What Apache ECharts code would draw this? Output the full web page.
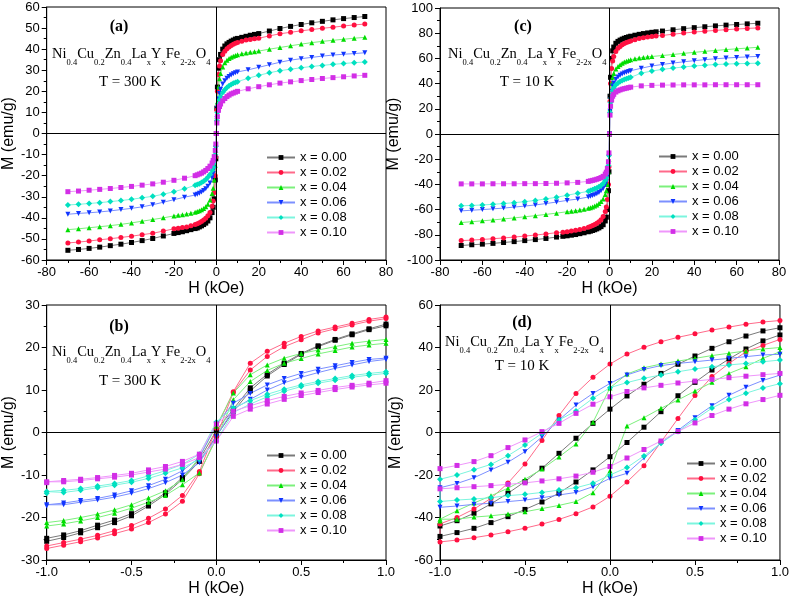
<!DOCTYPE html>
<html>
<head>
<meta charset="utf-8">
<script src="https://cdn.jsdelivr.net/npm/echarts@6/dist/echarts.min.js"></script>
<style>html,body{margin:0;padding:0;background:#fff}#chart{width:792px;height:599px}</style>
</head>
<body>
<div id="chart"></div>
<script>
// ---------- DATA ----------
const SERIES_NAMES = ['x = 0.00', 'x = 0.02', 'x = 0.04', 'x = 0.06', 'x = 0.08', 'x = 0.10'];

// wide-field sweeps (panels a, c): field grids, kOe
const H_D20 = [-70,-65,-60,-55,-50,-45,-40,-35,-30,-25,-20,-18,-16,-14,-12,-10,-9,-8,-7,-6,-5,-4,-3,-2,-1.5,-1,-0.5,-0.25,0,0.25,0.5,1,1.5,2,3,4,5,6,7,8,9,10,12,14,16,18,20,25,30,35,40,45,50,55,60,65,70];
const H_D10 = [-70,-65,-60,-55,-50,-45,-40,-35,-30,-25,-20,-15,-10,-9,-8,-7,-6,-5,-4,-3,-2,-1.5,-1,-0.5,-0.25,0,0.25,0.5,1,1.5,2,3,4,5,6,7,8,9,10,15,20,25,30,35,40,45,50,55,60,65,70];
const H_D25 = [-70,-65,-60,-55,-50,-45,-40,-35,-30,-25,-22,-20,-18,-16,-14,-12,-10,-9,-8,-7,-6,-5,-4,-3,-2,-1.5,-1,-0.5,-0.25,0,0.25,0.5,1,1.5,2,3,4,5,6,7,8,9,10,12,14,16,18,20,22,25,30,35,40,45,50,55,60,65,70];

// panel (a) T = 300 K, M (emu/g)
const A_M000 = [-55.4,-55.0,-54.5,-53.9,-53.2,-52.5,-51.7,-50.8,-49.8,-48.6,-47.4,-47.0,-46.6,-46.1,-45.6,-45.1,-44.8,-44.3,-43.8,-43.2,-42.5,-41.5,-40.0,-37.5,-35.0,-31.0,-22.0,-12.0,0,12,22,31,35,37.5,40,41.5,42.5,43.2,43.8,44.3,44.8,45.1,45.6,46.1,46.6,47.0,47.4,48.6,49.8,50.8,51.7,52.5,53.2,53.9,54.5,55.0,55.5];
const A_M002 = [-51.9,-51.5,-51.0,-50.4,-49.9,-49.3,-48.7,-48.0,-47.3,-46.3,-45.2,-44.9,-44.6,-44.3,-43.8,-43.2,-42.8,-42.3,-41.7,-41.0,-40.2,-39.0,-37.5,-34.5,-32.0,-28.0,-20.0,-11.0,0,11,20,28,32,34.5,37.5,39,40.2,41,41.7,42.3,42.8,43.2,43.8,44.3,44.6,44.9,45.2,46.3,47.3,48.0,48.7,49.3,49.9,50.4,51.0,51.5,51.9];
const A_M004 = [-45.6,-45.2,-44.7,-44.2,-43.7,-43.1,-42.4,-41.6,-40.8,-40.0,-39.1,-38.8,-38.5,-38.2,-37.8,-37.3,-37.0,-36.6,-36.2,-35.6,-34.8,-33.5,-31.5,-28.5,-26.0,-22.0,-15.0,-8.0,0,8,15,22,26,28.5,31.5,33.5,34.8,35.6,36.2,36.6,37.0,37.3,37.8,38.2,38.5,38.8,39.1,40.0,40.8,41.6,42.4,43.1,43.7,44.2,44.7,45.2,45.6];
const A_M006 = [-38.3,-37.9,-37.6,-37.2,-36.7,-36.1,-35.5,-34.8,-33.8,-32.6,-31.4,-30.2,-29.2,-28.8,-28.3,-27.7,-27.0,-26.2,-25.0,-23.5,-21.0,-19.0,-16.5,-12.0,-7.0,0,7,12,16.5,19,21,23.5,25,26.2,27,27.7,28.3,28.8,29.2,30.2,31.4,32.6,33.8,34.8,35.5,36.1,36.7,37.2,37.6,37.9,38.3];
const A_M008 = [-33.9,-33.6,-33.2,-32.8,-32.3,-31.8,-31.2,-30.5,-29.8,-28.8,-27.6,-26.2,-24.6,-24.2,-23.8,-23.3,-22.6,-21.8,-20.8,-19.5,-17.5,-16.0,-14.0,-10.0,-6.0,0,6,10,14,16,17.5,19.5,20.8,21.8,22.6,23.3,23.8,24.2,24.6,26.2,27.6,28.8,29.8,30.5,31.2,31.8,32.3,32.8,33.2,33.6,33.9];
const A_M010 = [-27.6,-27.3,-26.9,-26.5,-26.1,-25.6,-25.1,-24.5,-23.9,-23.1,-22.2,-21.2,-20.0,-19.6,-19.2,-18.8,-18.2,-17.5,-16.6,-15.5,-14.0,-12.8,-11.0,-8.0,-5.0,0,5,8,11,12.8,14,15.5,16.6,17.5,18.2,18.8,19.2,19.6,20,21.2,22.2,23.1,23.9,24.5,25.1,25.6,26.1,26.5,26.9,27.3,27.6];

// panel (c) T = 10 K
const C_M000 = [-88.5,-87.9,-87.4,-86.8,-86.1,-85.4,-84.6,-83.8,-82.9,-81.8,-81.2,-80.8,-80.3,-79.8,-79.1,-78.4,-77.6,-77.1,-76.6,-76.0,-75.3,-74.5,-73.5,-72.0,-69.0,-66.0,-60.0,-45.0,-30.0,0,30,45,60,66,69,72,73.5,74.5,75.3,76,76.6,77.1,77.6,78.4,79.1,79.7,80.2,80.7,81.1,81.7,82.7,83.6,84.4,85.1,85.8,86.4,86.9,87.4,87.9];
const C_M002 = [-84.6,-84.2,-83.7,-83.1,-82.5,-81.8,-81.0,-80.2,-79.3,-78.3,-77.9,-77.5,-77.0,-76.4,-75.8,-75.0,-74.0,-73.4,-72.7,-71.9,-70.9,-69.6,-68.0,-65.5,-61.5,-58.0,-52.0,-40.0,-26.0,0,26,40,52,58,61.5,65.5,68,69.5,70.8,71.8,72.6,73.3,73.9,74.9,75.7,76.3,76.9,77.4,77.8,78.2,79.2,80.1,80.9,81.6,82.2,82.8,83.3,83.8,84.2];
const C_M004 = [-70.3,-69.6,-68.9,-68.2,-67.4,-66.6,-65.7,-64.8,-63.8,-62.8,-61.7,-61.3,-60.9,-60.4,-59.8,-59.0,-58.5,-57.9,-57.2,-56.3,-55.1,-53.6,-51.6,-48.1,-45.0,-40.0,-30.0,-20.0,0,20,30,40,45,48,51.5,53.5,55,56.2,57.1,57.8,58.4,58.9,59.7,60.3,60.8,61.2,61.5,62.3,63.1,64.0,64.8,65.6,66.3,67.0,67.6,68.2,68.8];
const C_M006 = [-61.0,-60.5,-60.0,-59.4,-58.8,-58.0,-57.2,-56.3,-55.2,-54.0,-52.7,-51.6,-50.0,-49.5,-48.9,-48.2,-47.4,-46.4,-45.1,-43.3,-40.3,-37.8,-33.8,-27.0,-18.0,0,18,27,34,38,40.5,43.5,45.3,46.6,47.6,48.4,49.1,49.7,50.2,52.2,54.0,55.2,56.3,57.3,58.2,59.0,59.7,60.3,60.8,61.2,61.6];
const C_M008 = [-57.0,-56.7,-56.3,-55.8,-55.2,-54.5,-53.7,-52.7,-51.5,-50.2,-48.6,-47.0,-45.5,-44.8,-44.2,-43.5,-42.8,-41.9,-40.8,-39.3,-36.8,-34.7,-31.0,-25.0,-17.0,0,17,25,31,34.5,36.5,39,40.5,41.6,42.5,43.2,43.8,44.4,45,48.3,50.0,51.3,52.3,53.2,54.0,54.6,55.1,55.5,55.8,56.0,56.2];
const C_M010 = [-39.6,-39.6,-39.6,-39.5,-39.5,-39.5,-39.4,-39.4,-39.3,-39.1,-38.8,-38.4,-37.6,-37.2,-36.8,-36.4,-35.9,-35.3,-34.6,-33.6,-31.8,-30.3,-27.3,-22.0,-15.0,0,15,22,27,30,31.5,33.3,34.3,35,35.6,36,36.4,36.8,37.2,38.2,38.6,38.8,38.9,39.0,39.0,39.0,39.1,39.1,39.1,39.1,39.1];

// low-field loops (panels b, d): field grid from +1 to -1 kOe
const H_LOOP = [1.0,0.9,0.8,0.7,0.6,0.5,0.4,0.3,0.2,0.1,0.0,-0.1,-0.2,-0.3,-0.4,-0.5,-0.6,-0.7,-0.8,-0.9,-1.0];
// panel (b) T = 300 K: descending branch / ascending branch
const B_DOWN_000 = [25.5,24.4,23.2,21.9,20.4,18.6,16.3,13.7,10.5,5.5,0.5,-6.4,-10.6,-14.2,-16.9,-19.1,-20.6,-21.8,-23.1,-24.1,-24.9];
const B_UP_000   = [25.1,24.2,23.0,21.7,20.2,18.4,16.0,13.3,9.8,4.9,-0.8,-6.8,-11.0,-14.6,-17.3,-19.6,-21.2,-22.4,-23.6,-24.7,-25.6];
const B_DOWN_002 = [27.2,26.6,25.7,24.8,23.9,22.6,21.0,19.1,16.3,9.6,1.0,-9.2,-14.8,-18.0,-20.2,-21.9,-23.1,-24.2,-25.1,-25.9,-26.7];
const B_UP_002   = [26.8,26.2,25.3,24.4,23.4,21.8,20.2,17.9,14.7,9.4,-1.0,-9.7,-16.2,-19.2,-21.2,-22.7,-23.8,-24.8,-25.7,-26.5,-27.3];
const B_DOWN_004 = [21.9,21.5,21.0,20.2,19.4,18.6,17.5,15.9,13.6,9.3,1.5,-5.8,-11.1,-13.7,-15.4,-17.0,-18.2,-19.2,-20.0,-20.7,-21.2];
const B_UP_004   = [21.0,20.6,20.1,19.3,18.5,17.4,16.3,14.6,12.0,7.7,-1.5,-9.5,-12.3,-14.8,-16.4,-17.8,-19.0,-20.0,-20.8,-21.5,-22.0];
const B_DOWN_006 = [17.5,17.2,16.5,15.7,14.9,13.9,12.7,11.2,9.2,6.9,2.0,-5.9,-9.0,-11.0,-12.5,-13.7,-14.7,-15.5,-16.0,-16.6,-17.0];
const B_UP_006   = [17.2,16.7,15.9,15.1,14.1,13.0,11.7,10.0,7.8,5.5,-1.0,-7.1,-10.0,-11.8,-13.2,-14.3,-15.2,-15.9,-16.4,-17.0,-17.3];
const B_DOWN_008 = [14.3,13.9,13.4,12.7,12.0,11.2,10.2,9.0,7.5,5.8,2.5,-5.1,-7.5,-9.0,-10.2,-11.3,-12.0,-12.6,-13.2,-13.6,-13.9];
const B_UP_008   = [13.9,13.5,13.0,12.3,11.6,10.8,9.7,8.4,6.7,4.7,-2.0,-6.3,-8.3,-9.6,-10.8,-11.7,-12.4,-13.0,-13.6,-14.1,-14.3];
const B_DOWN_010 = [12.2,11.6,11.1,10.6,9.9,9.3,8.5,7.5,6.3,5.0,2.0,-5.1,-6.8,-8.0,-8.8,-9.6,-10.1,-10.6,-11.0,-11.3,-11.6];
const B_UP_010   = [11.6,11.2,10.7,10.1,9.4,8.7,7.8,6.7,5.5,3.8,-2.0,-5.9,-7.5,-8.6,-9.3,-10.0,-10.5,-10.9,-11.3,-11.6,-11.8];
// panel (d) T = 10 K
const D_DOWN_000 = [49.3,47.8,45.4,42.7,39.6,36.0,32.1,27.8,22.7,17.2,11.0,4.3,-2.7,-9.8,-16.8,-23.1,-28.6,-33.6,-38.0,-41.5,-44.0];
const D_UP_000   = [45.9,43.1,39.3,34.6,29.4,23.6,17.3,9.8,2.5,-4.7,-11.4,-17.6,-23.3,-28.5,-32.7,-36.2,-39.6,-42.4,-45.1,-47.1,-48.9];
const D_DOWN_002 = [52.7,52.0,51.0,49.6,48.2,46.5,44.8,42.7,40.1,36.9,32.2,26.0,18.4,8.0,-3.8,-14.8,-23.8,-31.0,-36.0,-40.0,-43.0];
const D_UP_002   = [43.8,41.0,38.0,32.5,26.3,17.4,6.6,-4.5,-15.6,-23.3,-30.0,-35.0,-38.2,-40.9,-43.1,-45.0,-46.7,-48.2,-49.5,-50.6,-51.5];
const D_DOWN_004 = [40.0,39.3,38.4,37.3,36.2,34.9,33.6,32.2,30.5,27.5,21.0,4.8,-5.4,-11.5,-17.2,-22.0,-26.2,-29.8,-33.2,-36.8,-40.8];
const D_UP_004   = [38.0,34.9,31.0,27.8,23.6,19.5,15.3,11.4,7.0,3.1,-18.0,-28.3,-32.5,-34.3,-35.8,-37.3,-38.3,-39.2,-39.8,-40.8,-41.6];
const D_DOWN_006 = [36.8,36.5,35.7,34.9,34.1,33.3,32.5,31.5,29.7,27.1,23.1,18.4,12.9,5.9,-2.0,-9.0,-14.0,-17.6,-21.3,-24.0,-26.0];
const D_UP_006   = [27.0,24.5,21.3,17.5,12.6,7.0,1.0,-5.0,-12.0,-19.2,-21.6,-25.5,-28.2,-29.4,-30.7,-31.8,-32.5,-33.3,-33.8,-34.6,-35.2];
const D_DOWN_008 = [34.1,33.3,32.5,31.8,31.0,29.9,28.6,27.1,25.5,23.5,21.1,16.1,10.1,5.9,-0.4,-5.9,-10.9,-15.0,-17.5,-20.0,-22.0];
const D_UP_008   = [23.0,21.0,18.5,15.5,11.5,6.0,0.5,-5.0,-11.0,-16.5,-20.0,-23.9,-26.0,-27.1,-28.2,-29.1,-29.7,-30.7,-31.3,-31.8,-32.5];
const D_DOWN_010 = [27.8,27.2,26.5,25.8,25.0,24.2,23.3,22.2,21.0,19.3,16.8,13.3,9.0,4.3,0.4,-3.5,-7.1,-10.9,-13.7,-15.5,-17.0];
const D_UP_010   = [17.5,15.5,13.5,11.0,8.0,4.5,0.5,-4.0,-8.0,-12.0,-16.0,-18.7,-20.5,-21.8,-22.8,-23.7,-24.4,-25.0,-25.5,-26.0,-26.5];

// tick settings
const X_WIDE = {min: -80, max: 80, interval: 20};
const X_LOW = {min: -1, max: 1, interval: 0.5};
const Y_A = {min: -60, max: 60, interval: 10};
const Y_B = {min: -30, max: 30, interval: 10};
const Y_C = {min: -100, max: 100, interval: 20};
const Y_D = {min: -60, max: 60, interval: 20};

// ---------- STYLE ----------
const SANS = 'Liberation Sans, Arial, sans-serif';
const SERIF = 'Liberation Serif, Times New Roman, serif';
const STYLES = [
  {sym: 'rect', rot: 0, mark: '#000000', line: '#7a7a7a'},
  {sym: 'circle', rot: 0, mark: '#ff1040', line: '#ff6a8a'},
  {sym: 'triangle', rot: 0, mark: '#00dd00', line: '#7cf07c'},
  {sym: 'triangle', rot: 180, mark: '#1035ff', line: '#7c90ff'},
  {sym: 'diamond', rot: 0, mark: '#00e0c0', line: '#7cf5de'},
  {sym: 'rect', rot: 0, mark: '#d22ee6', line: '#ef96fb'}
];

function zip(h, m) { return h.map((v, i) => [v, m[i]]); }
function loop(h, down, up) {
  const d = zip(h, down);
  const u = zip(h, up).reverse();
  return d.concat(u);
}

const panels = [
  {grid: {left: 46, top: 7, width: 340, height: 253}, x: X_WIDE, y: Y_A, dec: 0, yGap: 26,
   data: [zip(H_D20, A_M000), zip(H_D20, A_M002), zip(H_D20, A_M004), zip(H_D10, A_M006), zip(H_D10, A_M008), zip(H_D10, A_M010)]},
  {grid: {left: 440, top: 8, width: 339, height: 252}, x: X_WIDE, y: Y_C, dec: 0, yGap: 38,
   data: [zip(H_D25, C_M000), zip(H_D25, C_M002), zip(H_D20, C_M004), zip(H_D10, C_M006), zip(H_D10, C_M008), zip(H_D10, C_M010)]},
  {grid: {left: 46, top: 305, width: 340, height: 255}, x: X_LOW, y: Y_B, dec: 1, yGap: 26,
   data: [loop(H_LOOP, B_DOWN_000, B_UP_000), loop(H_LOOP, B_DOWN_002, B_UP_002), loop(H_LOOP, B_DOWN_004, B_UP_004),
          loop(H_LOOP, B_DOWN_006, B_UP_006), loop(H_LOOP, B_DOWN_008, B_UP_008), loop(H_LOOP, B_DOWN_010, B_UP_010)]},
  {grid: {left: 440, top: 305, width: 342, height: 255}, x: X_LOW, y: Y_D, dec: 1, yGap: 36,
   data: [loop(H_LOOP, D_DOWN_000, D_UP_000), loop(H_LOOP, D_DOWN_002, D_UP_002), loop(H_LOOP, D_DOWN_004, D_UP_004),
          loop(H_LOOP, D_DOWN_006, D_UP_006), loop(H_LOOP, D_DOWN_008, D_UP_008), loop(H_LOOP, D_DOWN_010, D_UP_010)]}
];

const grids = [], xAxes = [], yAxes = [], series = [];
panels.forEach((p, gi) => {
  grids.push(Object.assign({show: true, borderColor: '#000', borderWidth: 1, backgroundColor: 'transparent'}, p.grid));
  xAxes.push({
    type: 'value', gridIndex: gi, min: p.x.min, max: p.x.max, interval: p.x.interval,
    axisLine: {onZero: false, lineStyle: {color: '#000', width: 1}},
    axisTick: {length: 5, lineStyle: {color: '#000'}},
    minorTick: {show: true, splitNumber: 2, length: 3, lineStyle: {color: '#000'}},
    splitLine: {show: false},
    axisLabel: {color: '#000', fontSize: 13, fontFamily: SANS, margin: 6,
      formatter: v => p.dec ? v.toFixed(1) : String(v)},
    name: 'H (kOe)', nameLocation: 'middle', nameGap: 21,
    nameTextStyle: {color: '#000', fontSize: 16, fontFamily: SANS}
  });
  yAxes.push({
    type: 'value', gridIndex: gi, min: p.y.min, max: p.y.max, interval: p.y.interval,
    axisLine: {onZero: false, lineStyle: {color: '#000', width: 1}},
    axisTick: {length: 5, lineStyle: {color: '#000'}},
    minorTick: {show: true, splitNumber: 2, length: 3, lineStyle: {color: '#000'}},
    splitLine: {show: false},
    axisLabel: {color: '#000', fontSize: 13, fontFamily: SANS, margin: 7},
    name: 'M (emu/g)', nameLocation: 'middle', nameRotate: 90, nameGap: p.yGap,
    nameTextStyle: {color: '#000', fontSize: 16, fontFamily: SANS}
  });
  // zero lines
  series.push({
    type: 'line', name: '_zero' + gi, xAxisIndex: gi, yAxisIndex: gi, data: [], silent: true,
    markLine: {silent: true, symbol: 'none', label: {show: false}, animation: false,
      lineStyle: {color: '#000', width: 1, type: 'solid'},
      data: [{xAxis: 0}, {yAxis: 0}]}
  });
  p.data.forEach((d, si) => {
    const st = STYLES[si];
    series.push({
      type: 'line', name: SERIES_NAMES[si], xAxisIndex: gi, yAxisIndex: gi, data: d,
      symbol: st.sym, symbolRotate: st.rot, symbolSize: (st.sym === 'diamond' ? 6 : 5), showSymbol: true,
      showAllSymbol: true,
      lineStyle: {color: st.line, width: 1}, itemStyle: {color: st.mark, borderWidth: 0},
      animation: false, silent: true, clip: true
    });
  });
});

const legendPos = [
  {left: 266, top: 151}, {left: 658, top: 150}, {left: 266, top: 449}, {left: 686, top: 457}
];
const legends = legendPos.map(lp => ({
  left: lp.left, top: lp.top, orient: 'vertical', data: SERIES_NAMES,
  itemWidth: 28, itemHeight: 6, itemGap: 2, padding: 0,
  textStyle: {color: '#000', fontSize: 13, fontFamily: SANS, lineHeight: 13}
}));

function formula(x, y) {
  return {
    type: 'text', silent: true,
    style: {
      x: x, y: y, textVerticalAlign: 'top',
      text: '{m|Ni}{s|0.4}{m|Cu}{s|0.2}{m|Zn}{s|0.4}{m|La}{s|x}{m|Y}{s|x}{m|Fe}{s|2-2x}{m|O}{s|4}',
      rich: {
        m: {fontFamily: SERIF, fontSize: 14.5, color: '#000', verticalAlign: 'top', lineHeight: 15},
        s: {fontFamily: SERIF, fontSize: 8.5, color: '#000', verticalAlign: 'top', padding: [11, 0, 0, 0], lineHeight: 9}
      }
    }
  };
}
function label(x, y, t, bold) {
  return {
    type: 'text', silent: true,
    style: {x: x, y: y, text: t, textAlign: 'center', textVerticalAlign: 'middle',
      font: (bold ? 'bold ' : '') + (bold ? '16px ' : '15px ') + SERIF, fill: '#000'}
  };
}
const graphics = [
  label(119, 27, '(a)', true), formula(52, 47), label(130, 82, 'T = 300 K', false),
  label(523, 27, '(c)', true), formula(448, 47), label(527, 82, 'T = 10 K', false),
  label(119, 327, '(b)', true), formula(52, 345), label(130, 381, 'T = 300 K', false),
  label(522, 323, '(d)', true), formula(445, 335), label(522, 366, 'T = 10 K', false)
];

const chart = echarts.init(document.getElementById('chart'), null, {renderer: 'canvas'});
chart.setOption({
  animation: false,
  backgroundColor: '#fff',
  grid: grids, xAxis: xAxes, yAxis: yAxes, series: series,
  legend: legends, graphic: graphics
});
</script>
</body>
</html>
